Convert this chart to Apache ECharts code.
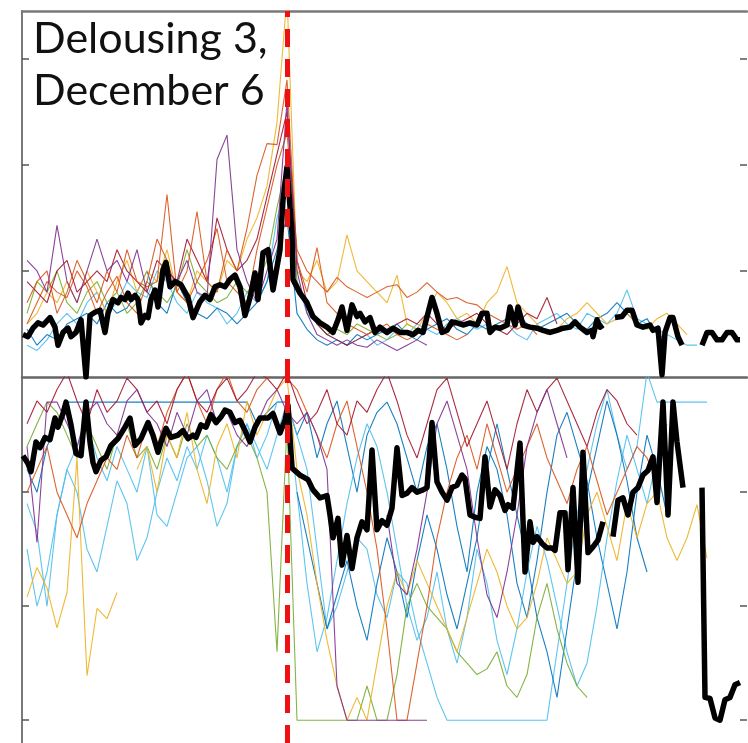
<!DOCTYPE html>
<html>
<head>
<meta charset="utf-8">
<title>Delousing 3</title>
<script src="https://cdn.jsdelivr.net/npm/echarts@6/dist/echarts.min.js"></script>
<style>
  html, body { margin: 0; padding: 0; background: #fff; }
  #main { width: 748px; height: 743px; }
</style>
</head>
<body>
<div id="main"></div>
<script>
// days relative to the delousing (day 0)
const treatDay = 0
const dayStep = 2
const panelText = 'Delousing 3,\nDecember 6'
const topTicks = [1, 2, 3]
const botTicks = [0, 1, 2]

// ---- upper panel: single fish, sampled every 2 days ----
const topPurple = [1.1, 1.0, 0.8, 1.43, 0.9, 0.7, 1.0, 1.3, 1.0, 1.1, 0.9, 1.2, 0.8, 0.7, 1.0, 0.9, 1.1, 0.8, 0.75, 2.05, 2.28, 1.2, 0.9, 0.7, 1.0, 1.3,
  2.6, 1.0, 0.6, 0.4, 0.35, 0.3, 0.35, 0.3, 0.28, 0.35, 0.3, 0.25, 0.3, 0.35, 0.3]
const topOrange = [0.7, 0.9, 1.0, 0.6, 0.8, 1.1, 0.9, 0.7, 1.0, 0.8, 1.2, 0.9, 0.85, 0.9, 1.72, 0.8, 1.0, 1.56, 0.9, 0.8, 1.2, 1.0, 1.4, 1.9, 2.2, 2.19,
  2.8, 1.1, 0.8, 1.22, 0.7, 0.6, 0.5, 0.45, 0.4, 0.45, 0.5, 0.4, 0.35, 0.4, 0.5, 0.45, 0.4, 0.35, 0.4]
const topYellow = [0.5, 0.6, 0.8, 0.7, 0.9, 0.7, 1.0, 0.8, 0.6, 0.9, 1.1, 0.8, 1.0, 0.9, 1.2, 0.8, 0.7, 1.0, 0.9, 0.8, 1.1, 1.0, 1.3, 1.5, 1.8, 2.4,
  3.6, 1.0, 0.9, 1.1, 0.8, 0.9, 1.34, 1.0, 0.9, 0.8, 0.7, 0.96, 0.5, 0.45, 0.6, 0.8, 0.7, 0.55, 0.6, 0.5, 0.7, 0.8, 1.04, 0.7, 0.6, 0.5, 0.4,
  0.45, 0.55, 0.6, 0.7, 0.6, 0.5, 0.55, 0.6, 0.5, 0.45, 0.55, 0.6, 0.5, 0.4]
const topCyan = [0.3, 0.25, 0.35, 0.5, 0.6, 0.5, 0.7, 0.8, 0.6, 0.7, 0.9, 0.8, 0.75, 1.0, 0.9, 0.7, 0.6, 0.8, 0.7, 0.65, 0.5, 0.6, 0.8, 0.7, 0.9, 1.5,
  1.8, 0.9, 0.6, 0.5, 0.4, 0.35, 0.3, 0.35, 0.4, 0.3, 0.35, 0.45, 0.4, 0.5, 0.45, 0.4, 0.5, 0.55, 0.5, 0.45, 0.5, 0.45, 0.5, 0.4, 0.35,
  0.5, 0.55, 0.6, 0.5, 0.45, 0.6, 0.55, 0.5, 0.6, 0.82, 0.55, 0.5, 0.45, 0.4, 0.35, 0.3, 0.3]
const topGreen = [0.6, 0.9, 0.8, 1.0, 0.7, 0.6, 0.8, 0.9, 0.7, 0.8, 0.6, 0.7, 0.9, 0.8, 0.7, 0.85, 1.2, 0.9, 0.8, 0.7, 0.75, 0.9, 0.8, 0.9, 1.1, 1.6,
  2.0, 0.9, 0.7, 0.5, 0.4, 0.45, 0.4, 0.5, 0.45, 0.4, 0.35, 0.4, 0.5, 0.45]
const topBlue = [0.45, 0.3, 0.4, 0.35, 0.5, 0.55, 0.6, 0.5, 0.7, 0.6, 0.65, 0.8, 1.0, 0.7, 0.6, 0.9, 0.7, 0.6, 0.55, 0.65, 0.6, 0.5, 0.6, 0.7, 0.9, 1.2,
  1.5, 0.6, 0.45, 0.35, 0.3, 0.35, 0.3, 0.4, 0.35, 0.4, 0.45, 0.5, 0.4, 0.35, 0.45, 0.5, 0.55, 0.45, 0.4, 0.5, 0.45, 0.5, 0.55, 0.6, 0.5,
  0.45, 0.5, 0.55, 0.6, 0.5, 0.45, 0.55, 0.6, 0.7, 0.6, 0.5, 0.55, 0.4, 0.35]
const topRed = [0.9, 0.8, 0.7, 1.0, 1.1, 0.8, 0.9, 1.0, 0.9, 1.2, 1.0, 0.9, 0.8, 1.1, 1.0, 0.9, 1.3, 1.1, 0.9, 1.5, 1.2, 1.0, 1.1, 1.3, 1.7, 2.1,
  2.5, 1.1, 0.7, 0.5, 0.4, 0.35, 0.3, 0.35, 0.4, 0.45, 0.4, 0.5, 0.55, 0.5, 0.6, 0.5, 0.45, 0.5, 0.55, 0.6, 0.5, 0.45, 0.4, 0.5, 0.6, 0.55, 0.75, 0.5]
const topBrown = [0.5, 0.7, 0.9, 0.8, 0.75, 1.0, 0.85, 0.6, 0.8, 0.95, 0.7, 0.6, 0.9, 1.3, 1.1, 0.8, 0.7, 0.9, 1.1, 1.4, 0.9, 0.8, 0.7, 1.2, 1.6, 2.0,
  2.3, 1.2, 1.0, 0.9, 0.8, 0.94, 0.85, 0.8, 0.75, 0.8, 0.85, 0.87, 0.75, 0.8, 0.89, 0.8, 0.73, 0.75, 0.7, 0.68, 0.6, 0.55, 0.5, 0.45, 0.5, 0.4]

// upper panel mean (thick black)
const topMeanDays = [-52.8, -51.8, -50.8, -49.8, -48.8, -47.4, -46.4, -45.8, -44.8, -43.8,
  -43.2, -42.2, -41.2, -40.2, -39.4, -38.4, -37.4, -36.4, -35.8, -34.8,
  -33.8, -33.2, -32.4, -31.8, -31.2, -30.4, -29.8, -29.2, -28.4, -27.8,
  -27.2, -26.4, -25.8, -24.8, -24.2, -23.4, -22.4, -21.2, -19.8, -18.8,
  -17.4, -16.4, -15.4, -14.4, -13.4, -12.4, -11.4, -10.4, -9.4, -8.4,
  -7.4, -6.4, -5.8, -4.8, -3.8, -2.8, -1.4, -0.8, 0, 1.0,
  1.2, 2.6, 4.0, 5.2, 6.6, 8.0, 9.2, 10.2, 11.0, 12.0,
  13.0, 14.0, 14.6, 15.6, 16.6, 17.6, 18.6, 20.0, 21.2, 22.6,
  24.0, 25.2, 26.2, 27.2, 29.0, 30.0, 31.0, 32.0, 33.0, 34.0,
  35.2, 36.6, 38.0, 39.0, 40.0, 40.6, 41.6, 42.6, 44.0, 44.6,
  45.6, 46.2, 47.2, 48.6, 50.0, 51.2, 52.6, 54.0, 55.2, 56.6,
  57.6, 58.6, 60.0, 61.0, 61.2, 62.0, 62.6, 63.2, 64.4, 65.6,
  67.0, 68.0, 69.0, 70.0, 71.2, 72.6, 73.2, 74.2, 75.0, 75.6,
  76.6, 77.2, 78.2, 79.0, 81.0, 83.0, 84.0, 85.0, 86.0, 87.0,
  88.0, 89.0, 90.0, 90.6]
const topMeanVals = [0.40, 0.38, 0.46, 0.51, 0.49, 0.56, 0.47, 0.30, 0.42, 0.46,
  0.38, 0.42, 0.54, 0.00, 0.58, 0.61, 0.63, 0.42, 0.60, 0.73,
  0.70, 0.75, 0.73, 0.79, 0.73, 0.77, 0.73, 0.51, 0.58, 0.56,
  0.73, 0.82, 0.66, 1.01, 1.08, 0.85, 0.90, 0.87, 0.75, 0.56,
  0.71, 0.77, 0.73, 0.85, 0.87, 0.85, 0.92, 0.96, 0.85, 0.58,
  0.75, 0.98, 0.73, 1.17, 1.20, 0.82, 1.20, 1.67, 1.98, 1.36,
  0.92, 0.79, 0.70, 0.57, 0.51, 0.47, 0.42, 0.54, 0.66, 0.44,
  0.68, 0.57, 0.60, 0.52, 0.56, 0.42, 0.47, 0.42, 0.46, 0.42,
  0.42, 0.40, 0.44, 0.42, 0.75, 0.60, 0.42, 0.44, 0.52, 0.51,
  0.49, 0.51, 0.49, 0.60, 0.60, 0.42, 0.47, 0.46, 0.49, 0.66,
  0.49, 0.66, 0.49, 0.47, 0.46, 0.44, 0.42, 0.44, 0.46, 0.47,
  0.52, 0.47, 0.42, 0.44, 0.38, 0.54, 0.47, 0.49, null, 0.56,
  0.57, 0.63, 0.63, 0.49, 0.47, 0.49, 0.44, 0.46, 0.02, 0.42,
  0.56, 0.56, 0.38, 0.30, null, 0.30, 0.42, 0.42, 0.35, 0.35,
  0.42, 0.42, 0.35, 0.35]

// ---- lower panel: single fish ----
const botPurple = [2.4, 1.56, 2.79, 2.79, 2.6, 2.4, 2.7, 2.79, 2.6, 2.5, 2.8, 2.9, 2.7, 2.6, 2.4, 2.7, 2.5, 2.8, 2.9, 2.6, 2.7, 2.5, 2.4, 2.6, 2.8, 2.9,
  2.7, 2.6, 2.7, 2.5, 2.2, 0.3, 0, 0, 0, 0, 0, 0, 0, 0, 0]
const botPurple2 = [1.8, 1.2, 1.1, 1.5, 2.0, 2.6, 2.8, 2.5, 2.2, 1.6, 1.1, 0.9, 1.3, 1.8, 2.4, 2.7, 2.9, 2.6, 2.3]
const botRed = [2.6, 2.8, 2.7, 2.9, 3.05, 2.8, 2.6, 2.9, 2.7, 2.8, 3.0, 2.9, 2.7, 2.8, 2.6, 2.9, 3.05, 2.8, 2.7, 2.9, 3.0, 2.8, 2.9, 3.05, 3.0, 2.9,
  3.05, 2.8, 2.6, 2.7, 2.9, 2.6, 2.5, 2.8, 2.7, 2.9, 3.05, 2.8, 2.5, 2.3, 2.6, 2.9, 3.0, 2.7, 2.4, 2.6, 2.8, 2.5, 2.2, 2.6, 2.9, 2.7,
  2.9, 3.0, 2.8, 2.6, 2.4, 2.7, 2.9, 2.8, 2.6, 2.5]
const botOrange = [2.0, 2.2, 2.4, 2.0, 1.8, 1.6, 1.9, 2.1, 2.3, 2.2, 2.5, 2.3, 2.6, 2.4, 2.7, 2.9, 3.05, 2.8, 2.6, 2.9, 3.05, 2.8, 2.7, 2.9, 3.0, 3.05,
  3.0, 2.9, 2.7, 2.5, 2.3, 2.6, 2.8, 2.4, 2.0, 1.5, 0.8, 0, 0, 0.5, 1.0, 1.6, 2.0, 2.3, 2.5, 2.2, 2.6, 2.3, 2.0, 2.2, 2.4, 2.6, 2.3,
  2.1, 1.9, 2.2, 2.4, 2.1, 1.8, 2.0, 2.2, 2.4, 2.3, 2.1]
const botYellow = [1.08, 1.34, 1.16, 0.81, 1.12, 2.3, 0.39, 0.98, 0.89, 1.12]
const botYellow2 = [2.2, 2.4, 2.0, 2.5, 2.3, 2.7, 2.2, 1.9, 2.4, 2.6, 2.3, 2.8, 2.5, 2.7, 2.9,
  3.0, 2.2, 1.8, 1.2, 0.7, 0.3, 0, 0.2, 0, 0.5, 1.0, 1.3, 1.1, 1.4, 1.2, 1.0, 0.8, 0.6, 0.9, 1.2, 1.5, 1.3, 1.0, 0.8, 0.9, 1.2, 1.6,
  1.4, 1.2, 1.3, 1.8, 2.0, 1.7, 1.4, 1.9, 1.6, 1.9, 2.0, 1.6, 1.4, 1.6, 1.89, 1.42]
const botCyan = [1.5, 1.0, 1.3, 1.8, 2.2, 2.4, 2.6, 2.3, 2.1, 2.4, 2.2, 2.0, 2.4, 1.8, 1.7, 2.0, 2.3, 2.4, 2.1, 1.7, 1.9, 2.4, 2.6, 2.3, 2.5, 2.79,
  2.79, 2.5, 2.2, 1.5, 0.8, 1.0, 1.3, 1.6, 1.5, 1.1, 0.9, 1.3, 1.2, 0.8, 0.5, 0.2, 0, 0, 0, 0, 0, 0, 0, 0, 0, 0, 0, 0.6, 1.2, 1.8,
  2.2, 2.6, 2.9, 2.5, 2.2, 2.4, 3.05, 2.79, 2.79, 2.79, 2.79, 2.79, 2.79]
const botCyan2 = [1.9, 1.65, 1.0, 1.8, 2.2, 2.0, 1.5, 1.3, 1.7, 2.1, 1.9, 1.4, 1.6, 2.0, 2.3, 2.1, 2.4, 2.2, 2.5, 2.3, 2.0, 2.4, 2.6, 2.4, 2.2, 2.5,
  2.79, 2.0, 1.2, 0.6, 0.9, 1.4, 1.9, 2.3, 2.6, 2.4, 2.0, 1.5, 1.0, 0.7, 0.9, 1.3, 0.8, 0.5, 0.9, 1.5, 1.2, 0.7, 0.4, 0.8, 1.3, 1.7,
  1.4, 1.0, 0.6, 0.3, 0.5, 1.0, 1.6, 2.1, 2.5, 2.2, 1.9, 2.3, 2.6]
const botBlue = [2.2, 2.0, 2.4, 2.6, 2.79, 2.79, 2.79, 2.79, 2.79, 2.79, 2.79, 2.79, 2.79, 2.79, 2.79, 2.79, 2.79, 2.79, 2.79, 2.79, 2.79, 2.79, 2.79, 2.6, 2.7, 2.79,
  2.79, 2.5, 2.7, 2.3, 2.6, 2.8, 2.4, 2.0, 2.5, 2.7, 2.79, 2.6, 2.3, 2.0, 2.4, 2.6, 2.2, 1.7, 1.3, 2.0, 2.4, 2.2, 1.8, 1.2, 0.9, 1.4,
  2.0, 2.5, 2.7, 2.4, 2.1, 1.6, 1.2, 0.8, 1.3, 2.0, 2.5, 2.2, 1.8]
const botBlue2 = [2.0, 1.6, 1.2, 0.8, 1.1, 1.4, 1.0, 0.7, 1.2, 1.6, 1.3, 0.9, 1.4, 1.8, 1.5, 1.1, 0.8, 1.2, 1.6, 2.2, 2.6, 2.2, 1.8, 1.4, 0.9, 0.6,
  0.2, 0.8, 1.4, 2.0, 2.4, 2.8, 2.5, 2.1, 1.6, 1.3]
const botGreen = [2.4, 2.6, 2.79, 2.7, 2.5, 2.3, 2.6, 2.4, 2.2, 2.5, 2.6, 2.3, 2.4, 2.2, 2.5, 2.3, 2.6, 2.4, 2.5, 2.3, 2.2, 2.4, 2.5, 2.3, 2.0, 0.6,
  2.6, 0, 0, 0, 0, 0, 0, 0, 0.3, 0, 0, 0.4, 1.0, 1.2, 1.0, 0.9, 0.8, 0.6, 0.5, 0.4, 0.45, 0.6, 0.3, 0.2, 0.4, 0.9, 1.2, 0.8, 0.5, 0.3, 0.2]

// lower panel mean (thick black)
const botMeanDays = [-52.8, -51.8, -51.2, -50.2, -49.4, -48.4, -47.4, -46.4, -45.8, -44.8,
  -44.2, -43.2, -42.2, -41.2, -40.2, -39.4, -38.8, -38.2, -37.2, -36.2,
  -35.2, -33.8, -32.4, -31.4, -30.4, -29.2, -27.8, -26.8, -25.8, -25.2,
  -24.2, -23.2, -21.8, -20.8, -19.8, -18.8, -18.2, -17.2, -16.2, -15.2,
  -14.2, -13.2, -12.4, -11.4, -10.4, -9.4, -8.4, -7.4, -6.4, -5.4,
  -3.8, -2.8, -1.4, -0.4, 0.2, 1.0, 2.6, 4.2, 5.2, 6.6,
  8.0, 8.6, 9.2, 10.2, 11.0, 12.0, 13.0, 14.0, 15.0, 16.0,
  17.0, 18.0, 19.0, 20.0, 21.0, 22.0, 23.0, 24.0, 25.0, 26.0,
  27.2, 28.0, 29.0, 30.0, 31.0, 32.0, 33.0, 34.0, 35.0, 35.6,
  36.6, 37.6, 38.6, 39.6, 40.6, 41.6, 42.6, 43.6, 44.2, 45.2,
  46.6, 47.6, 48.6, 49.2, 50.0, 51.0, 52.0, 53.0, 53.6, 54.6,
  55.6, 56.2, 57.2, 58.2, 59.2, 60.2, 61.2, 62.2, 63.2, 64.2,
  65.2, 66.2, 67.2, 68.2, 69.2, 70.2, 71.2, 72.2, 73.2, 74.0,
  75.2, 76.2, 77.2, 78.0, 79.2, 81.0, 83.0, 83.6, 84.6, 85.6,
  86.6, 87.6, 88.6, 89.6, 90.6]
const botMeanVals = [2.32, 2.25, 2.18, 2.44, 2.39, 2.48, 2.46, 2.65, 2.57, 2.69,
  2.79, 2.59, 2.34, 2.32, 2.79, 2.44, 2.26, 2.18, 2.28, 2.31,
  2.41, 2.47, 2.57, 2.65, 2.41, 2.47, 2.61, 2.50, 2.35, 2.44,
  2.56, 2.48, 2.50, 2.54, 2.47, 2.50, 2.48, 2.59, 2.57, 2.68,
  2.61, 2.66, 2.72, 2.70, 2.61, 2.63, 2.54, 2.44, 2.57, 2.65,
  2.65, 2.69, 2.52, 2.63, 2.76, 2.21, 2.15, 2.11, 2.02, 1.95,
  1.97, 1.80, 1.60, 1.77, 1.36, 1.62, 1.33, 1.60, 1.74, 1.67,
  2.37, 1.67, 1.75, 1.71, 1.86, 2.39, 1.97, 1.99, 2.04, 2.00,
  2.02, 2.04, 2.61, 2.09, 2.00, 1.93, 2.04, 2.06, 2.15, 2.12,
  1.80, 1.78, 1.77, 2.31, 1.87, 2.02, 1.97, 1.84, 1.89, 1.86,
  2.43, 1.30, 1.74, 1.56, 1.61, 1.55, 1.51, 1.51, 1.49, 1.82,
  1.82, 1.32, 2.04, 1.21, 2.35, 1.47, 1.52, 1.58, 1.74, null,
  1.61, 1.93, 1.95, 1.80, 2.00, 2.04, 2.15, 2.19, 2.31, 1.91,
  2.79, 1.80, 2.79, 2.44, 2.04, null, 2.04, 0.20, 0.19, 0.02,
  0.00, 0.18, 0.20, 0.31, 0.33]

// 1 init
const chart = echarts.init(document.getElementById('main'))

function toPairs (start, vals) {
  return vals.map(function (v, i) { return [start + i * dayStep, v] })
}
function zip (days, vals) {
  return days.map(function (d, i) { return [d, vals[i]] })
}
function thin (grid, vals, start, color) {
  return {
    type: 'line',
    xAxisIndex: grid === 0 ? 0 : 2,
    yAxisIndex: grid === 0 ? 0 : 2,
    data: toPairs(start, vals),
    showSymbol: false,
    symbol: 'none',
    silent: true,
    lineStyle: { color: color, width: 1.1, opacity: 0.9 },
    z: 2
  }
}
function mean (grid, days, vals) {
  return {
    type: 'line',
    xAxisIndex: grid === 0 ? 0 : 2,
    yAxisIndex: grid === 0 ? 0 : 2,
    data: zip(days, vals),
    showSymbol: false,
    symbol: 'none',
    silent: true,
    lineStyle: { color: '#000', width: 5.5, join: 'round' },
    z: 4,
    markLine: {
      silent: true,
      symbol: 'none',
      label: { show: false },
      lineStyle: { color: '#ee1111', width: 5, type: [18, 12], opacity: 1 },
      data: [{ xAxis: treatDay }]
    }
  }
}

const axisGray = '#7a7a7a'
function yAx (grid, pos, min, max, ticks, showLine) {
  return {
    type: 'value', gridIndex: grid, position: pos, min: min, max: max,
    axisLine: { show: showLine, onZero: false, lineStyle: { color: axisGray, width: 2 } },
    axisTick: { show: true, inside: true, length: 7, customValues: ticks, lineStyle: { color: '#555', width: 1.5 } },
    axisLabel: { show: false },
    splitLine: { show: false }
  }
}
function xAx (grid, pos, showLine) {
  return {
    type: 'value', gridIndex: grid, position: pos, min: -53, max: 92,
    axisLine: { show: showLine, onZero: false, lineStyle: { color: pos === 'top' && grid === 0 ? axisGray : '#666', width: 2.5 } },
    axisTick: { show: false },
    axisLabel: { show: false },
    splitLine: { show: false }
  }
}

const series = [
  thin(0, topCyan, -52, '#4DBEEE'),
  thin(0, topBlue, -52, '#0072BD'),
  thin(0, topGreen, -52, '#77AC30'),
  thin(0, topYellow, -52, '#EDB120'),
  thin(0, topBrown, -52, '#D95319'),
  thin(0, topRed, -52, '#A2142F'),
  thin(0, topOrange, -52, '#D95319'),
  thin(0, topPurple, -52, '#7E2F8E'),
  mean(0, topMeanDays, topMeanVals),
  thin(1, botBlue, -52, '#0072BD'),
  thin(1, botCyan, -52, '#4DBEEE'),
  thin(1, botCyan2, -52, '#4DBEEE'),
  thin(1, botBlue2, 2, '#0072BD'),
  thin(1, botGreen, -52, '#77AC30'),
  thin(1, botYellow, -52, '#EDB120'),
  thin(1, botYellow2, -30, '#EDB120'),
  thin(1, botOrange, -52, '#D95319'),
  thin(1, botRed, -52, '#A2142F'),
  thin(1, botPurple, -52, '#7E2F8E'),
  thin(1, botPurple2, 20, '#7E2F8E'),
  mean(1, botMeanDays, botMeanVals)
]

const option = {
  animation: false,
  backgroundColor: '#fff',
  grid: [
    { left: 22, right: 1, top: 11, height: 366 },
    { left: 22, right: 1, top: 377, height: 366 }
  ],
  xAxis: [
    xAx(0, 'bottom', true),
    xAx(0, 'top', true),
    xAx(1, 'bottom', false)
  ],
  yAxis: [
    yAx(0, 'left', 0, 3.45, topTicks, true),
    yAx(0, 'right', 0, 3.45, topTicks, false),
    yAx(1, 'left', -0.2, 3.01, botTicks, true),
    yAx(1, 'right', -0.2, 3.01, botTicks, false)
  ],
  graphic: [{
    type: 'text',
    left: 33,
    top: 13,
    z: 10,
    style: { text: panelText, fontFamily: 'Lato', fontSize: 43, lineHeight: 52, fill: '#111' }
  }],
  series: series
}
// 2 draw
chart.setOption(option)
</script>
</body>
</html>
